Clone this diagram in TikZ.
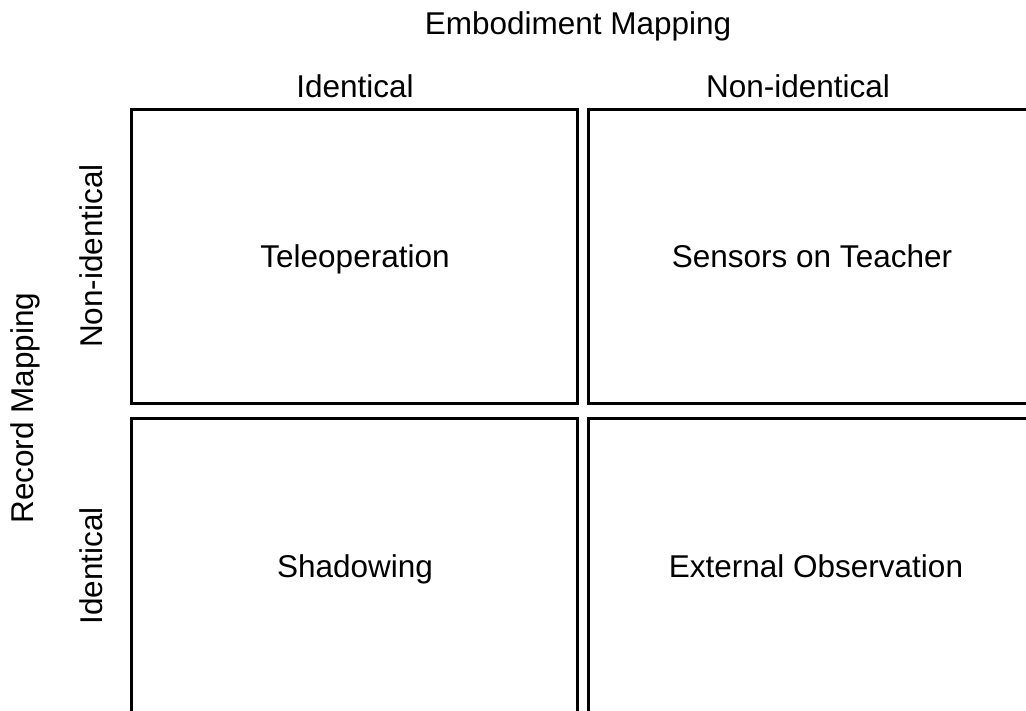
\documentclass[tikz,border=0pt]{standalone}
\usepackage{fontspec}
\setmainfont{Liberation Sans}
\begin{document}
\begin{tikzpicture}[x=1pt,y=-1pt,
  cell/.style={draw=black, line width=3pt, minimum width=446pt, minimum height=294pt,
    inner sep=0pt, outer sep=0pt},
  lbl/.style={font=\fontsize{31.5}{38}\selectfont, inner sep=0pt, anchor=base},
  vlbl/.style={lbl, rotate=90}]
  \useasboundingbox (0,0) rectangle (1026,710);
  \clip (0,0) rectangle (1026,710);

  % axis titles
  \node[lbl] (embtitle) at (578,34) {Embodiment Mapping};
  \node[vlbl] (rectitle) at (34,408) {Record Mapping};

  % column headings
  \node[lbl] (colA) at (355,97) {Identical};
  \node[lbl] (colB) at (798,97) {Non-identical};

  % row headings
  \node[vlbl] (rowA) at (102,256) {Non-identical};
  \node[vlbl] (rowB) at (102,566) {Identical};

  % the four cells
  \node[cell] (tl) at (354.5,256.5) {};
  \node[cell] (tr) at (811.5,256.5) {};
  \node[cell] (bl) at (354.5,565.5) {};
  \node[cell] (br) at (811.5,565.5) {};

  % cell contents
  \node[lbl] (tele) at (355,267) {Teleoperation};
  \node[lbl] (sens) at (812,267) {Sensors on Teacher};
  \node[lbl] (shad) at (355,577) {Shadowing};
  \node[lbl] (extobs) at (816,577) {External Observation};
\end{tikzpicture}
\end{document}
